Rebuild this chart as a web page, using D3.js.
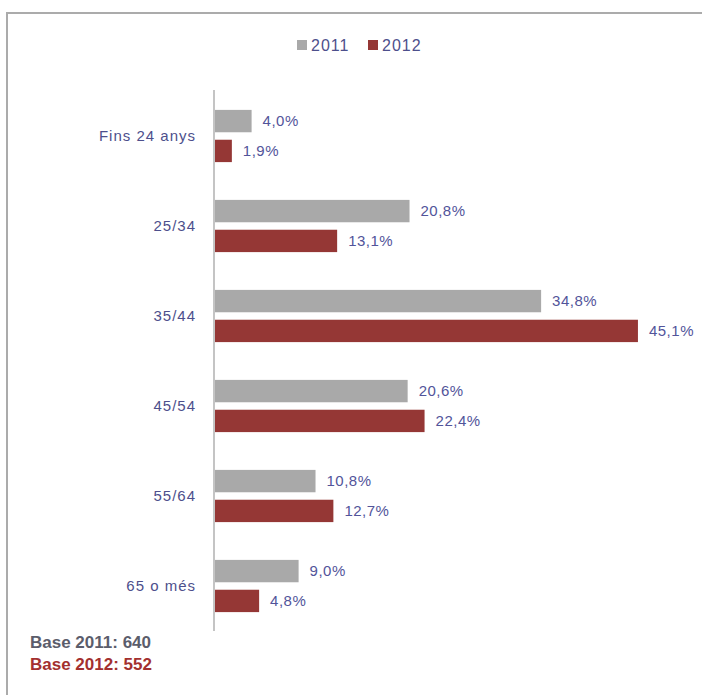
<!DOCTYPE html>
<html>
<head>
<meta charset="utf-8">
<script src="https://cdn.jsdelivr.net/npm/d3@7"></script>
<style>
  body { margin: 0; background: #fff; }
  text { font-family: "Liberation Sans", Arial, sans-serif; }
</style>
</head>
<body>
<div id="chart"></div>
<script>
// chart values
var categories = ["Fins 24 anys", "25/34", "35/44", "45/54", "55/64", "65 o més"];
var years = ["2011", "2012"];
var values2011 = [4.0, 20.8, 34.8, 20.6, 10.8, 9.0];
var values2012 = [1.9, 13.1, 45.1, 22.4, 12.7, 4.8];
var baseNotes = ["Base 2011: 640", "Base 2012: 552"];

var width = 702, height = 695;
var colors = {"2011": "#a9a9a9", "2012": "#953735"};
var textColor = "#4d4f8c";

var svg = d3.select("#chart")
  .append("svg")
  .attr("width", width)
  .attr("height", height);

// frame (only left and top edges are visible)
svg.append("path")
  .attr("d", "M7,695 V13 H702")
  .attr("fill", "none")
  .attr("stroke", "#ababab")
  .attr("stroke-width", 2);

var x0 = 214;
var x = d3.scaleLinear().domain([0, 50]).range([0, 470]);

var y = d3.scaleBand()
  .domain(categories)
  .range([91, 631])
  .paddingInner(0.42)
  .paddingOuter(0.21);

var ySub = d3.scaleBand()
  .domain(years)
  .range([0, y.bandwidth()])
  .paddingInner(0.25);

// rows: one entry per category with both years
var rows = categories.map(function(c, i){
  return {cat: c, vals: [
    {year: "2011", v: values2011[i]},
    {year: "2012", v: values2012[i]}
  ]};
});

var groups = svg.selectAll("g.grp")
  .data(rows)
  .enter()
  .append("g")
  .attr("class", "grp")
  .attr("transform", d => "translate(" + x0 + "," + y(d.cat) + ")");

groups.selectAll("rect")
  .data(d => d.vals)
  .enter()
  .append("rect")
  .attr("x", 0)
  .attr("y", d => ySub(d.year))
  .attr("width", d => x(d.v))
  .attr("height", ySub.bandwidth())
  .attr("fill", d => colors[d.year]);

groups.selectAll("text.val")
  .data(d => d.vals)
  .enter()
  .append("text")
  .attr("class", "val")
  .attr("x", d => x(d.v) + 11)
  .attr("y", d => ySub(d.year) + ySub.bandwidth() / 2)
  .attr("dy", "0.35em")
  .attr("fill", "#52549a")
  .style("font-size", "15px")
  .style("letter-spacing", "0.5px")
  .text(d => d.v.toFixed(1).replace(".", ",") + "%");

// category axis
var yAxis = d3.axisLeft(y).tickSize(0).tickPadding(18);
var axisG = svg.append("g")
  .attr("transform", "translate(" + x0 + ",0)")
  .call(yAxis);
axisG.select(".domain")
  .attr("stroke", "#c4c4c4")
  .attr("stroke-width", 2)
  .attr("d", "M0,90V631");
axisG.selectAll(".tick text")
  .attr("fill", textColor)
  .style("font-family", "'Liberation Sans', Arial, sans-serif")
  .style("font-size", "15px")
  .style("letter-spacing", "1px");

// legend
var legend = svg.append("g").attr("transform", "translate(297,40)");
var legendX = [0, 71];
years.forEach(function(yr, i){
  var lg = legend.append("g").attr("transform", "translate(" + legendX[i] + ",0)");
  lg.append("rect")
    .attr("width", 10).attr("height", 10)
    .attr("fill", colors[yr]);
  lg.append("text")
    .attr("x", 14).attr("y", 5)
    .attr("dy", "0.35em")
    .attr("fill", textColor)
    .style("font-size", "16px")
    .style("letter-spacing", "1px")
    .text(yr);
});

// base notes
var noteColors = ["#5b5d6b", "#a3302f"];
svg.selectAll("text.note")
  .data(baseNotes)
  .enter()
  .append("text")
  .attr("class", "note")
  .attr("x", 30)
  .attr("y", (d, i) => 648 + i * 22)
  .attr("fill", (d, i) => noteColors[i])
  .style("font-size", "17px")
  .style("font-weight", "bold")
  .text(d => d);
</script>
</body>
</html>
